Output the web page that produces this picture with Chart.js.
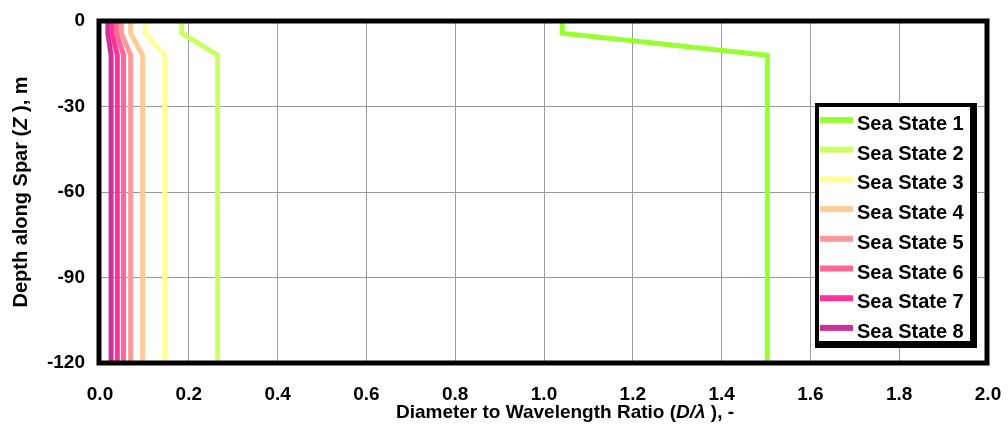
<!DOCTYPE html>
<html>
<head>
<meta charset="utf-8">
<script src="https://cdn.jsdelivr.net/npm/chart.js@4"></script>
<style>
  html, body { margin: 0; padding: 0; background: #fff; }
  #wrap { width: 1008px; height: 442px; }
</style>
</head>
<body>
<div id="wrap"><canvas id="myChart"></canvas></div>
<script>
"use strict";

// depth points along the spar (m), shared by every series
const depths = [0, -4.3, -12, -120];

const seaStates = ['Sea State 1', 'Sea State 2', 'Sea State 3', 'Sea State 4',
                   'Sea State 5', 'Sea State 6', 'Sea State 7', 'Sea State 8'];

// D/lambda at each depth point
const ss1 = [1.041, 1.041, 1.503, 1.503];
const ss2 = [0.184, 0.184, 0.265, 0.265];
const ss3 = [0.102, 0.102, 0.146, 0.146];
const ss4 = [0.069, 0.069, 0.096, 0.096];
const ss5 = [0.048, 0.048, 0.069, 0.069];
const ss6 = [0.037, 0.037, 0.053, 0.053];
const ss7 = [0.027, 0.027, 0.039, 0.039];
const ss8 = [0.0176, 0.0176, 0.025, 0.025];

const xTicks = [0, 0.2, 0.4, 0.6, 0.8, 1.0, 1.2, 1.4, 1.6, 1.8, 2.0];
const yTicks = [0, -30, -60, -90, -120];

const colors = ['#99FF33', '#CCFF66', '#FFFF99', '#FFCC99', '#FF9999', '#FF6699', '#FF3399', '#CC3399'];
const series = [ss1, ss2, ss3, ss4, ss5, ss6, ss7, ss8];

const FONT = "'Liberation Sans', Arial, sans-serif";

const datasets = series.map((vals, i) => ({
    label: seaStates[i],
    data: vals.map((v, k) => ({ x: v, y: depths[k] })),
    showLine: true,
    borderColor: colors[i],
    backgroundColor: colors[i],
    borderWidth: 5,
    borderJoinStyle: 'miter',
    borderCapStyle: 'butt',
    pointRadius: 0,
    tension: 0,
}));

// frame, titles and legend box
const decorations = {
    id: 'decorations',
    afterDatasetsDraw(chart) {
        const c = chart.ctx;
        const a = chart.chartArea;
        c.save();
        c.strokeStyle = '#000';
        c.lineWidth = 5;
        c.strokeRect(a.left - 1, a.top, a.right - a.left, a.bottom - a.top);
        c.restore();
    },
    afterDraw(chart) {
        const c = chart.ctx;
        c.save();
        c.fillStyle = '#000';

        // x title with italic D/lambda
        const parts = [
            ['bold 19px ' + FONT, 'Diameter to Wavelength Ratio ('],
            ['italic bold 19px ' + FONT, 'D/\u03BB'],
            ['bold 19px ' + FONT, ' ), -'],
        ];
        let total = 0;
        parts.forEach(p => { c.font = p[0]; total += c.measureText(p[1]).width; });
        let x = 565 - total / 2;
        c.textBaseline = 'alphabetic';
        c.textAlign = 'left';
        parts.forEach(p => {
            c.font = p[0];
            c.fillText(p[1], x, 418);
            x += c.measureText(p[1]).width;
        });

        // y title rotated, italic Z
        const yparts = [
            ['bold 20px ' + FONT, 'Depth along Spar ('],
            ['italic bold 20px ' + FONT, 'Z'],
            ['bold 20px ' + FONT, ' ), m'],
        ];
        total = 0;
        yparts.forEach(p => { c.font = p[0]; total += c.measureText(p[1]).width; });
        c.translate(21, 192);
        c.rotate(-Math.PI / 2);
        c.textBaseline = 'middle';
        x = -total / 2;
        yparts.forEach(p => {
            c.font = p[0];
            c.fillText(p[1], x, 0);
            x += c.measureText(p[1]).width;
        });
        c.restore();

        // legend box with shadow
        c.save();
        c.fillStyle = '#000';
        c.fillRect(815, 103, 162, 245);
        c.fillStyle = '#fff';
        c.fillRect(819, 107, 151, 234);
        c.font = 'bold 20px ' + FONT;
        c.textAlign = 'left';
        c.textBaseline = 'alphabetic';
        seaStates.forEach((name, i) => {
            const yy = 120 + i * 29.7;
            c.fillStyle = colors[i];
            c.fillRect(820, yy - 3, 33, 6);
            c.fillStyle = '#000';
            c.fillText(name, 857, 130 + i * 29.7);
        });
        c.restore();
    }
};

const ctx = document.getElementById('myChart');

new Chart(ctx, {
    type: 'scatter',
    data: { datasets: datasets },
    options: {
        responsive: true,
        maintainAspectRatio: false,
        animation: false,
        layout: { padding: { left: 0, right: 20, top: 21, bottom: 0 } },
        plugins: {
            legend: { display: false },
            tooltip: { enabled: false },
        },
        scales: {
            x: {
                type: 'linear',
                min: 0,
                max: 2,
                afterFit: (scale) => {
                    scale.height = 79;
                    scale.paddingLeft = 0;
                    scale.paddingRight = 0;
                },
                afterBuildTicks: (scale) => { scale.ticks = xTicks.map(v => ({ value: v })); },
                grid: { color: '#999', lineWidth: 1, drawTicks: false },
                border: { display: false },
                ticks: {
                    padding: 20,
                    color: '#000',
                    font: { family: FONT, size: 19, weight: 'bold' },
                    callback: (v) => Number(v).toFixed(1),
                },
            },
            y: {
                type: 'linear',
                min: -120,
                max: 0,
                afterFit: (scale) => {
                    scale.width = 100;
                    scale.paddingTop = 0;
                    scale.paddingBottom = 0;
                },
                afterBuildTicks: (scale) => { scale.ticks = yTicks.map(v => ({ value: v })); },
                grid: { color: '#999', lineWidth: 1, drawTicks: false },
                border: { display: false },
                ticks: {
                    padding: 15,
                    color: '#000',
                    font: { family: FONT, size: 19, weight: 'bold' },
                },
            },
        },
    },
    plugins: [decorations],
});
</script>
</body>
</html>
